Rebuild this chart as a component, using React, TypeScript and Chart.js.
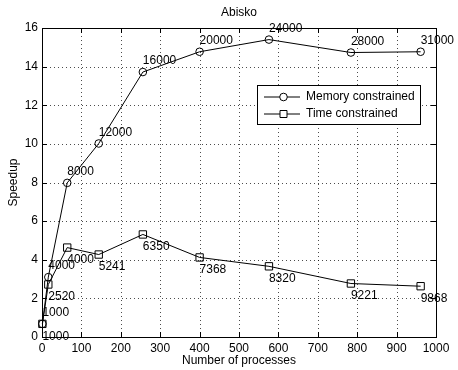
import React, { useEffect, useRef } from "react";
import { Chart, registerables } from "chart.js";

Chart.register(...registerables);

const processes = [1, 16, 64, 144, 256, 400, 576, 784, 961];
const memorySpeedup = [0.68, 3.1, 7.98, 10.02, 13.72, 14.77, 15.4, 14.73, 14.77];
const timeSpeedup = [0.68, 2.72, 4.63, 4.27, 5.31, 4.12, 3.66, 2.77, 2.63];
const memoryLabels = ["1000", "4000", "8000", "12000", "16000", "20000", "24000", "28000", "31000"];
const timeLabels = ["1000", "2520", "4000", "5241", "6350", "7368", "8320", "9221", "9868"];
const seriesNames = ["Memory constrained", "Time constrained"];
const titleText = "Abisko";
const xTitle = "Number of processes";
const yTitle = "Speedup";

const FONT = "'Liberation Sans', Arial, Helvetica, sans-serif";

const gridPlugin = {
  id: "dottedGrid",
  beforeDatasetsDraw(chart: any) {
    const { ctx, chartArea } = chart;
    const { left, right, top, bottom } = chartArea;
    const xs = chart.scales.x;
    const ys = chart.scales.y;
    ctx.save();
    ctx.strokeStyle = "rgba(0,0,0,0.7)";
    ctx.lineWidth = 1;
    ctx.setLineDash([1, 3]);
    ctx.beginPath();
    xs.ticks.forEach((t: any) => {
      const px = Math.round(xs.getPixelForValue(t.value)) + 0.5;
      if (px <= left + 1 || px >= right - 1) return;
      ctx.moveTo(px, bottom);
      ctx.lineTo(px, top);
    });
    ys.ticks.forEach((t: any) => {
      const py = Math.round(ys.getPixelForValue(t.value)) + 0.5;
      if (py <= top + 1 || py >= bottom - 1) return;
      ctx.moveTo(left, py);
      ctx.lineTo(right, py);
    });
    ctx.stroke();
    ctx.restore();
  },
};

const decorPlugin = {
  id: "decor",
  afterDraw(chart: any) {
    const { ctx, chartArea } = chart;
    const { left, right, top, bottom } = chartArea;
    ctx.save();
    ctx.strokeStyle = "#000";
    ctx.lineWidth = 1;
    ctx.setLineDash([]);
    ctx.strokeRect(left + 0.5, top + 0.5, right - left, bottom - top);
    const xs = chart.scales.x;
    const ys = chart.scales.y;
    const tl = 5;
    ctx.beginPath();
    xs.ticks.forEach((t: any) => {
      const px = Math.round(xs.getPixelForValue(t.value)) + 0.5;
      ctx.moveTo(px, bottom);
      ctx.lineTo(px, bottom - tl);
      ctx.moveTo(px, top);
      ctx.lineTo(px, top + tl);
    });
    ys.ticks.forEach((t: any) => {
      const py = Math.round(ys.getPixelForValue(t.value)) + 0.5;
      ctx.moveTo(left, py);
      ctx.lineTo(left + tl, py);
      ctx.moveTo(right, py);
      ctx.lineTo(right - tl, py);
    });
    ctx.stroke();

    ctx.fillStyle = "#000";
    ctx.font = `12px ${FONT}`;
    ctx.textAlign = "center";
    ctx.textBaseline = "middle";
    ctx.fillText(titleText, (left + right) / 2, 13);

    ctx.textAlign = "left";
    const labelSets = [
      { labels: memoryLabels, dy: -11 },
      { labels: timeLabels, dy: 12.5 },
    ];
    labelSets.forEach((ls, di) => {
      const meta = chart.getDatasetMeta(di);
      meta.data.forEach((pt: any, i: number) => {
        ctx.fillText(ls.labels[i], pt.x, pt.y + ls.dy);
      });
    });

    const bx = 257, by = 85, bw = 163, bh = 39;
    ctx.fillStyle = "#fff";
    ctx.fillRect(bx, by, bw, bh);
    ctx.strokeStyle = "#000";
    ctx.strokeRect(bx + 0.5, by + 0.5, bw, bh);
    const rows = [97, 114];
    chart.data.datasets.forEach((ds: any, i: number) => {
      const y = rows[i];
      ctx.beginPath();
      ctx.moveTo(264, y);
      ctx.lineTo(300, y);
      ctx.strokeStyle = "#000";
      ctx.lineWidth = 1;
      ctx.stroke();
      ctx.beginPath();
      if (ds.pointStyle === "circle") {
        ctx.arc(283.5, y, 3.8, 0, Math.PI * 2);
      } else {
        ctx.rect(280, y - 3.5, 7, 7);
      }
      ctx.fillStyle = "#fff";
      ctx.fill();
      ctx.stroke();
      ctx.fillStyle = "#000";
      ctx.textAlign = "left";
      ctx.textBaseline = "middle";
      ctx.fillText(ds.label, 306, y);
    });
    ctx.restore();
  },
};

export default function App() {
  const ref = useRef<HTMLCanvasElement>(null);
  useEffect(() => {
    document.body.style.margin = "0";
    const canvas = ref.current!;
    const chart = new Chart(canvas, {
      type: "line",
      data: {
        datasets: [
          {
            label: seriesNames[0],
            data: processes.map((p, i) => ({ x: p, y: memorySpeedup[i] })),
            borderColor: "#000",
            borderWidth: 1,
            backgroundColor: "rgba(0,0,0,0)",
            pointStyle: "circle",
            pointRadius: 3.8,
            pointBorderWidth: 1,
            pointBorderColor: "#000",
            pointBackgroundColor: "rgba(0,0,0,0)",
            tension: 0,
            clip: false as any,
          },
          {
            label: seriesNames[1],
            data: processes.map((p, i) => ({ x: p, y: timeSpeedup[i] })),
            borderColor: "#000",
            borderWidth: 1,
            backgroundColor: "rgba(0,0,0,0)",
            pointStyle: "rect",
            pointRadius: 5.2,
            pointBorderWidth: 1,
            pointBorderColor: "#000",
            pointBackgroundColor: "rgba(0,0,0,0)",
            tension: 0,
            clip: false as any,
          },
        ],
      },
      options: {
        responsive: false,
        animation: false,
        devicePixelRatio: 1,
        layout: { padding: { top: 28, right: 22, left: 0, bottom: 0 } },
        plugins: {
          legend: { display: false },
          title: { display: false },
          tooltip: { enabled: false },
        },
        scales: {
          x: {
            type: "linear",
            min: 0,
            max: 1000,
            afterFit: (s: any) => {
              s.height = 33;
            },
            ticks: {
              stepSize: 100,
              color: "#000",
              font: { family: FONT, size: 12 },
              padding: 4,
              maxRotation: 0,
              callback: (v: any) => String(v),
            },
            grid: { display: false, drawTicks: false, tickLength: 0 },
            border: { display: false },
            title: {
              display: true,
              text: xTitle,
              color: "#000",
              font: { family: FONT, size: 12 },
              padding: { top: 0, bottom: 2 },
            },
          },
          y: {
            type: "linear",
            min: 0,
            max: 16,
            afterFit: (s: any) => {
              s.width = 42;
            },
            ticks: {
              stepSize: 2,
              color: "#000",
              font: { family: FONT, size: 12 },
              padding: 4,
              callback: (v: any) => String(v),
            },
            grid: { display: false, drawTicks: false, tickLength: 0 },
            border: { display: false },
            title: {
              display: true,
              text: yTitle,
              color: "#000",
              font: { family: FONT, size: 12 },
              padding: { top: 6, bottom: 0 },
            },
          },
        },
      },
      plugins: [gridPlugin, decorPlugin],
    });
    return () => chart.destroy();
  }, []);
  return (
    <div style={{ width: 458, height: 370 }}>
      <canvas ref={ref} width={458} height={370} style={{ display: "block" }} />
    </div>
  );
}
